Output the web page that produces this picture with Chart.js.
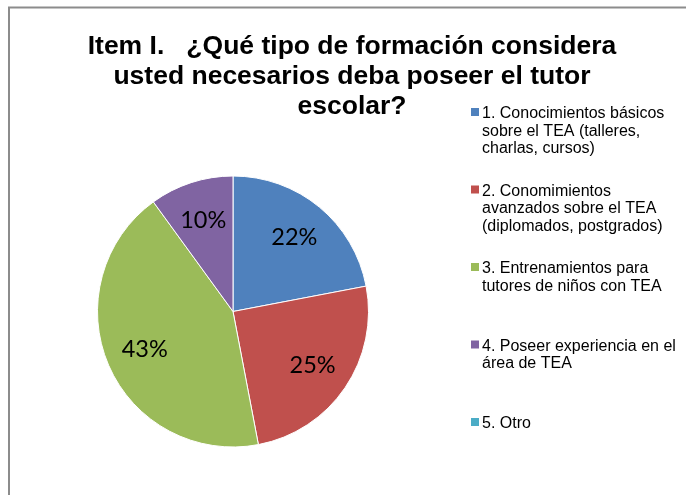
<!DOCTYPE html>
<html>
<head>
<meta charset="utf-8">
<script src="https://cdn.jsdelivr.net/npm/chart.js@4/dist/chart.umd.min.js"></script>
<style>
  html, body { margin: 0; padding: 0; background: #fff; overflow: hidden; }
  #wrap { width: 686px; height: 495px; position: relative; }
</style>
</head>
<body>
<div id="wrap"><canvas id="pie" width="686" height="495"></canvas></div>
<script>
// chart data
const titleLines = [
  'Item I.   ¿Qué tipo de formación considera',
  'usted necesarios deba poseer el tutor',
  'escolar?'
];
const categories = [
  ['1. Conocimientos básicos', 'sobre el TEA (talleres,', 'charlas, cursos)'],
  ['2. Conomimientos', 'avanzados sobre el TEA', '(diplomados, postgrados)'],
  ['3. Entrenamientos para', 'tutores de niños con TEA'],
  ['4. Poseer experiencia en el', 'área de TEA'],
  ['5. Otro']
];
const percents = [22, 25, 43, 10, 0];
const sliceColors = ['#4f81bd', '#c0504d', '#9bbb59', '#8064a2', '#4bacc6'];

// frame around the chart (only top and left edges are in the picture)
const framePlugin = {
  id: 'frame',
  beforeDraw(chart) {
    const ctx = chart.ctx;
    ctx.save();
    ctx.fillStyle = '#fff';
    ctx.fillRect(0, 0, chart.width, chart.height);
    ctx.strokeStyle = '#8c8c8c';
    ctx.lineWidth = 2;
    ctx.beginPath();
    ctx.moveTo(9, chart.height);
    ctx.lineTo(9, 7.5);
    ctx.lineTo(chart.width, 7.5);
    ctx.stroke();
    ctx.restore();
  }
};

const titlePlugin = {
  id: 'bigTitle',
  afterDraw(chart) {
    const ctx = chart.ctx;
    ctx.save();
    ctx.fillStyle = '#000';
    ctx.font = 'bold 26.5px "Liberation Sans", Arial, sans-serif';
    ctx.textAlign = 'center';
    ctx.textBaseline = 'alphabetic';
    titleLines.forEach((line, i) => {
      ctx.fillText(line, 352, 54 + i * 30);
    });
    ctx.restore();
  }
};

// legend with wrapped entries, spread down the right side like the office chart
const legendPlugin = {
  id: 'sideLegend',
  afterDraw(chart) {
    const ctx = chart.ctx;
    const ds = chart.data.datasets[0];
    ctx.save();
    ctx.font = '16px "Liberation Sans", Arial, sans-serif';
    ctx.textAlign = 'left';
    ctx.textBaseline = 'alphabetic';
    chart.data.labels.forEach((lines, i) => {
      const base = 118 + i * 77.5;
      ctx.fillStyle = ds.backgroundColor[i];
      ctx.fillRect(471, base - 10, 8, 8);
      ctx.fillStyle = '#000';
      lines.forEach((txt, j) => {
        ctx.fillText(txt, 482, base + j * 17.5);
      });
    });
    ctx.restore();
  }
};

// percentage labels inside slices
const sliceLabels = {
  id: 'sliceLabels',
  afterDatasetsDraw(chart) {
    const ctx = chart.ctx;
    const meta = chart.getDatasetMeta(0);
    ctx.save();
    ctx.font = '23.5px Lato, "Open Sans", sans-serif';
    ctx.fillStyle = '#000';
    ctx.textAlign = 'center';
    ctx.textBaseline = 'middle';
    meta.data.forEach((arc, i) => {
      const v = chart.data.datasets[0].data[i];
      if (!v) return;
      const p = arc.getProps(['x', 'y', 'startAngle', 'endAngle', 'outerRadius'], true);
      const mid = (p.startAngle + p.endAngle) / 2;
      const r = p.outerRadius * 0.71;
      ctx.fillText(v + '%', p.x + Math.cos(mid) * r, p.y + Math.sin(mid) * r);
    });
    ctx.restore();
  }
};

new Chart(document.getElementById('pie'), {
  type: 'pie',
  data: {
    labels: categories,
    datasets: [{
      data: percents,
      backgroundColor: sliceColors,
      borderColor: '#ffffff',
      borderWidth: 1
    }]
  },
  options: {
    responsive: false,
    animation: false,
    layout: { padding: { left: 97, right: 317, top: 175.5, bottom: 47.5 } },
    plugins: {
      legend: { display: false },
      title: { display: false },
      tooltip: { enabled: false }
    }
  },
  plugins: [framePlugin, titlePlugin, legendPlugin, sliceLabels]
});
</script>
</body>
</html>
